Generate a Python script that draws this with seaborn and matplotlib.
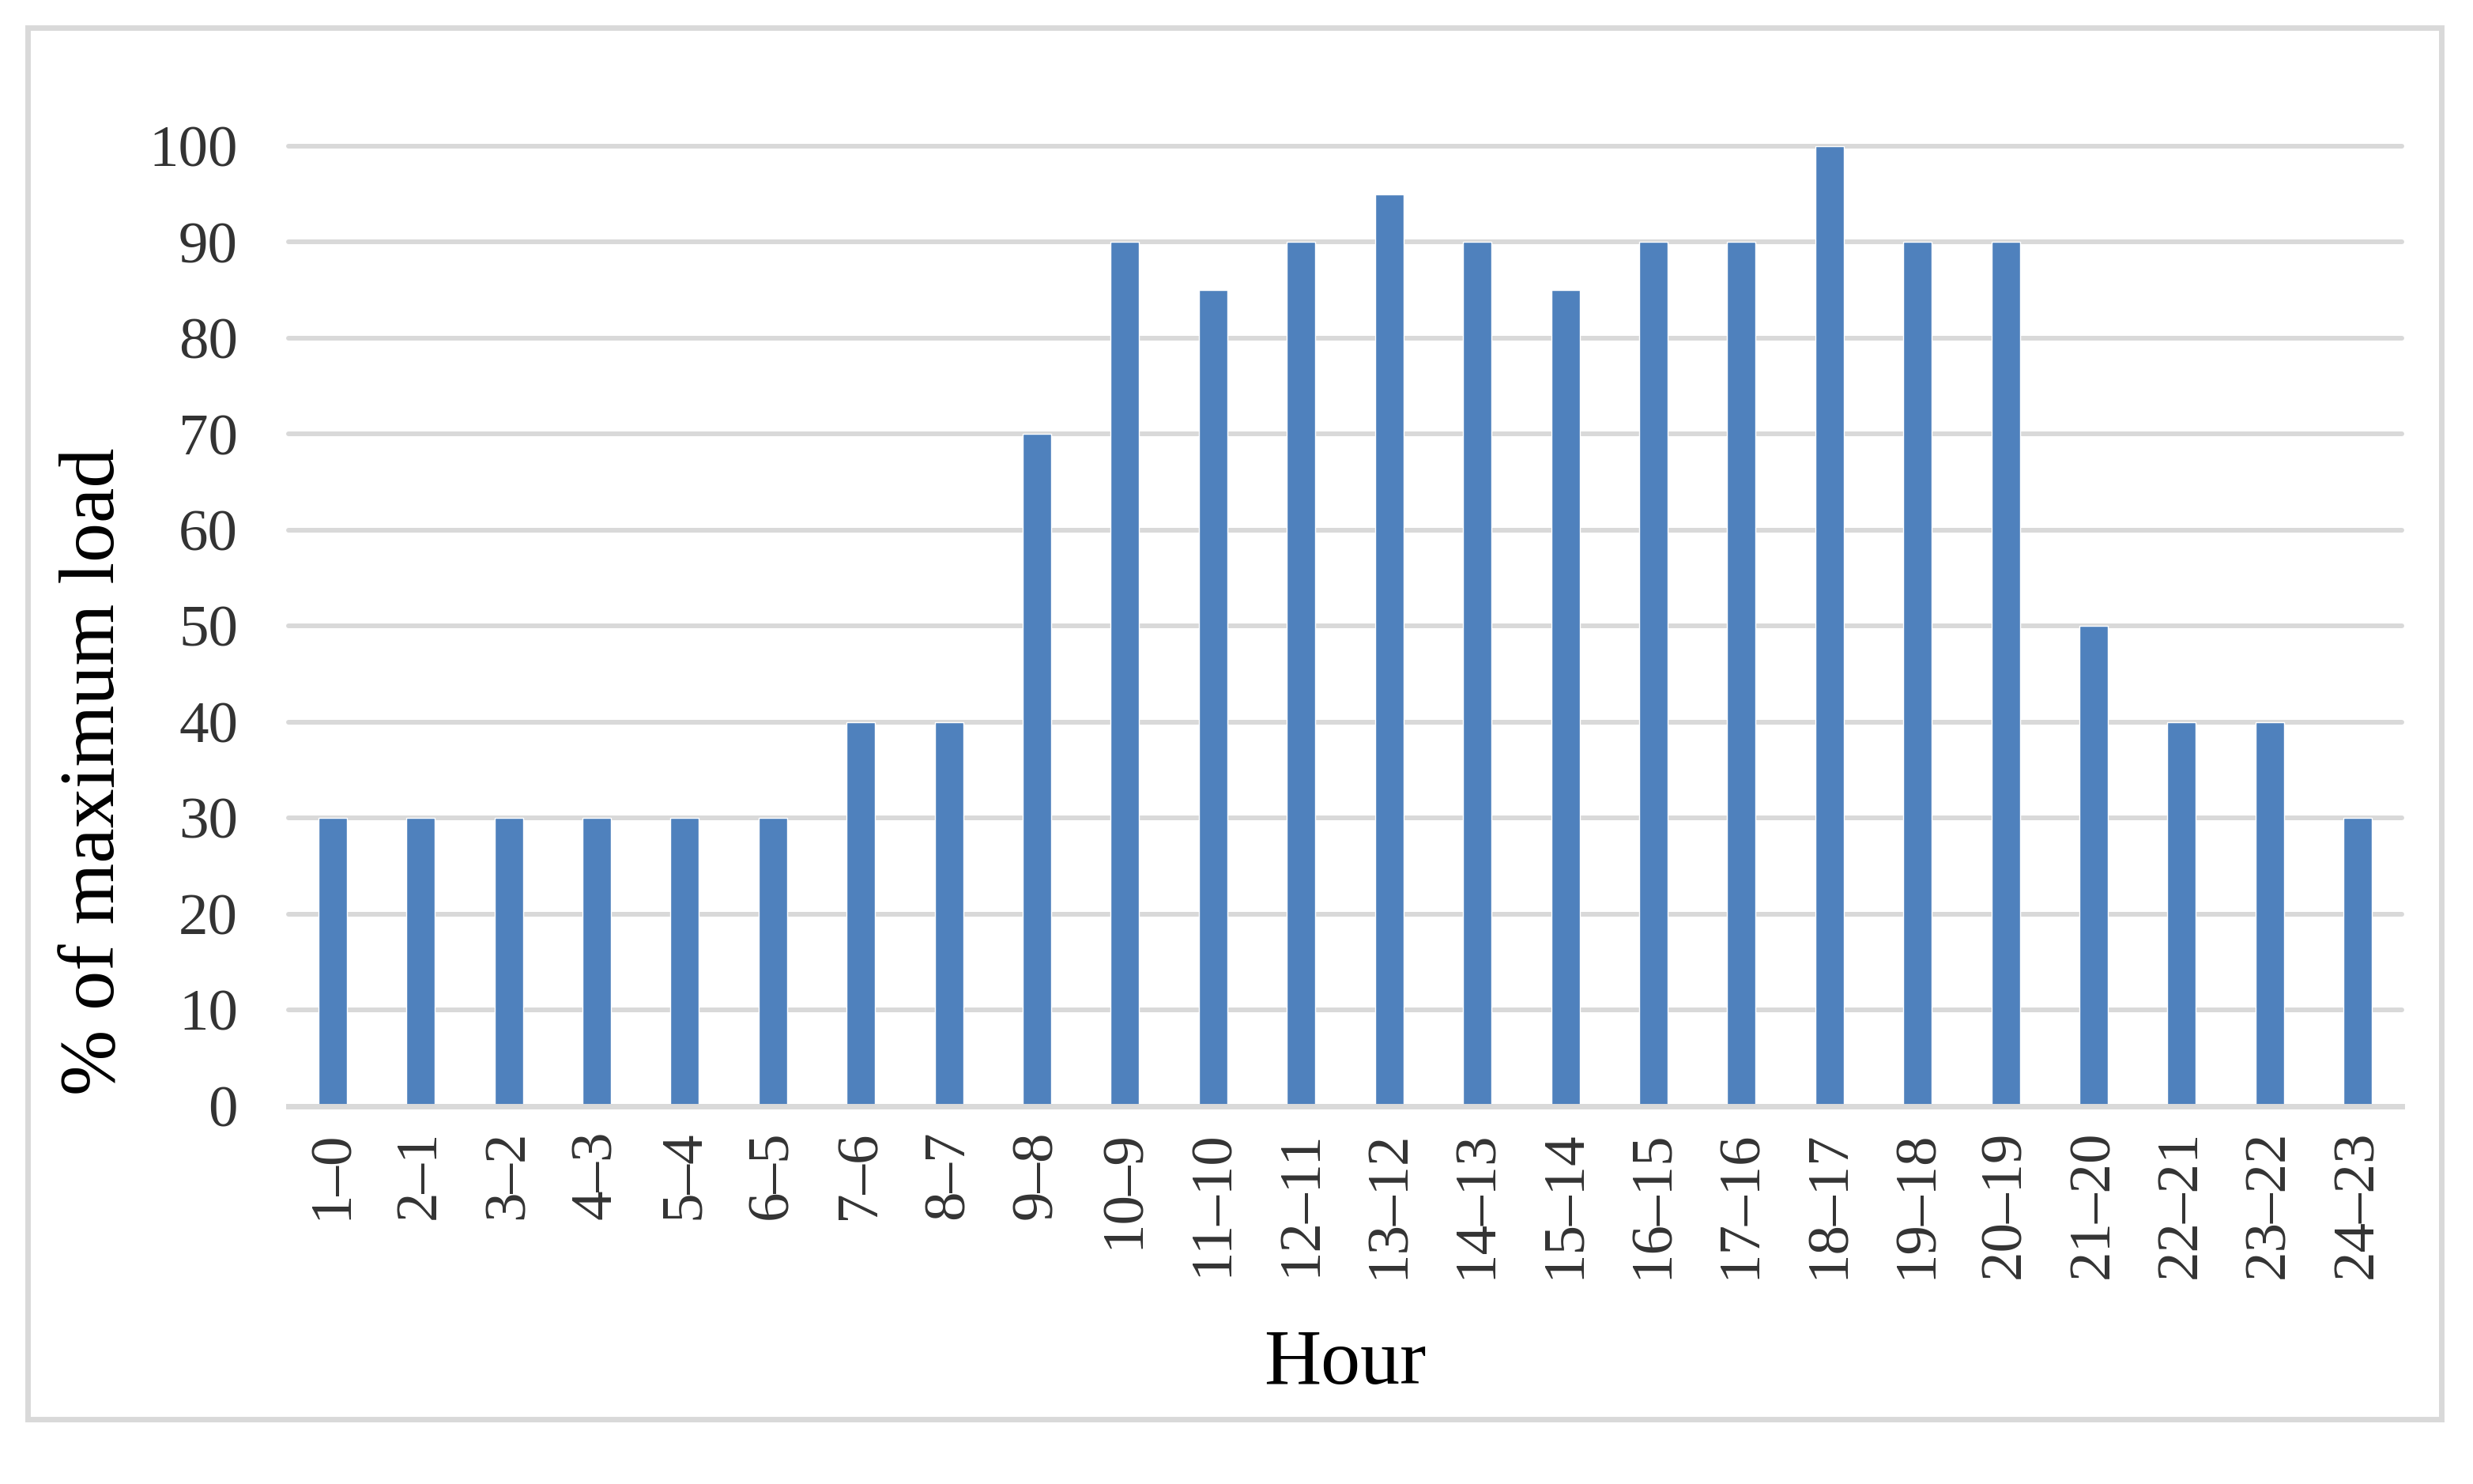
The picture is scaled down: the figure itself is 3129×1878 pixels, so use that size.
import matplotlib
matplotlib.use("Agg")
import matplotlib.pyplot as plt
import seaborn as sns
import pandas as pd
from matplotlib.patches import Rectangle

# ---- data ----
hours = ["1–0", "2–1", "3–2", "4–3", "5–4", "6–5", "7–6", "8–7", "9–8", "10–9",
         "11–10", "12–11", "13–12", "14–13", "15–14", "16–15", "17–16", "18–17",
         "19–18", "20–19", "21–20", "22–21", "23–22", "24–23"]
load_pct = [30, 30, 30, 30, 30, 30, 40, 40, 70, 90,
            85, 90, 95, 90, 85, 90, 90, 100, 90, 90,
            50, 40, 40, 30]
y_ticks = [0, 10, 20, 30, 40, 50, 60, 70, 80, 90, 100]

df = pd.DataFrame({"Hour": hours, "Load": load_pct})

sns.set_theme(style="white")
plt.rcParams["font.family"] = ["Liberation Serif", "DejaVu Serif"]

DPI = 100
fig = plt.figure(figsize=(3129 / DPI, 1878 / DPI), dpi=DPI)
fig.patch.set_facecolor("white")
ax = fig.add_axes([365 / 3129, 1 - 1399.5 / 1878, (3039 - 365) / 3129, (1399.5 - 185) / 1878])

sns.barplot(data=df, x="Hour", y="Load", color="#4F81BD", saturation=1,
            width=0.323, ax=ax, zorder=3)

ax.set_ylim(0, 100)
ax.set_xlim(-0.5, len(hours) - 0.5)
ax.set_yticks(y_ticks)
ax.set_yticklabels([str(v) for v in y_ticks])

ax.set_axisbelow(True)
ax.yaxis.grid(True, color="#D9D9D9", linewidth=4.3)
ax.xaxis.grid(False)
for gl in ax.yaxis.get_gridlines():
    gl.set_clip_on(False)

for s in ["left", "top", "right"]:
    ax.spines[s].set_visible(False)
ax.spines["bottom"].set_color("#D9D9D9")
ax.spines["bottom"].set_linewidth(5.0)
ax.spines["bottom"].set_zorder(4)

ax.tick_params(axis="y", length=0, pad=46, labelsize=54, labelcolor="#333333")
ax.tick_params(axis="x", length=0, pad=22, labelsize=54, labelcolor="#333333",
               labelrotation=90)

ax.set_xlabel("Hour", fontsize=72, color="black")
ax.set_ylabel("% of maximum load", fontsize=72, color="black")
ax.xaxis.set_label_coords(0.5, -0.233)
ax.yaxis.set_label_coords((165 - 365) / (3039 - 365), (1399.5 - 976) / (1399.5 - 185))

# chart-area border
fig.patches.append(Rectangle((34.5 / 3129, 1 - 1796 / 1878),
                             (3088.5 - 34.5) / 3129, (1796 - 35) / 1878,
                             transform=fig.transFigure, fill=False,
                             edgecolor="#D9D9D9", linewidth=5.0, zorder=0))

fig.savefig("out.png", dpi=DPI, facecolor="white")
